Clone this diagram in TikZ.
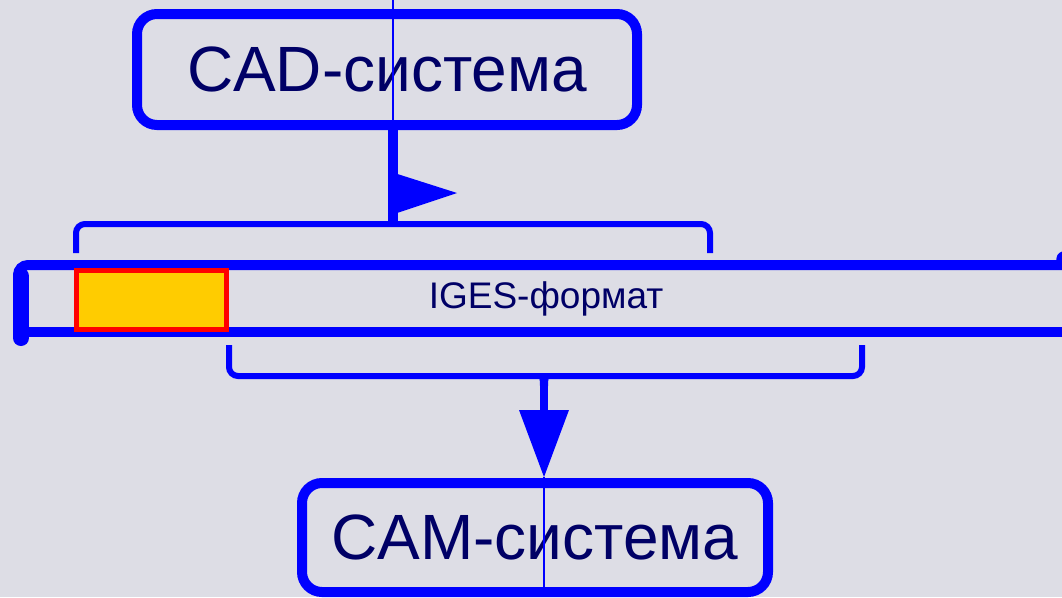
\documentclass[tikz,border=0pt]{standalone}
\usepackage{fontspec}
\setmainfont{Liberation Sans}
\definecolor{bg}{RGB}{221,221,229}
\definecolor{lineblue}{RGB}{0,0,255}
\definecolor{txt}{RGB}{0,0,102}
\definecolor{gold}{RGB}{255,204,0}
\begin{document}
\begin{tikzpicture}[x=1pt,y=-1pt,
  sysbox/.style={draw=lineblue, line width=10pt, rounded corners=20pt,
    minimum width=500pt, minimum height=111pt, inner sep=0pt,
    font=\fontsize{64}{64}\selectfont, text=txt},
  bracket/.style={draw=lineblue, line width=6pt, rounded corners=9pt},
  guide/.style={draw=lineblue, line width=2.5pt},
  stem/.style={draw=lineblue, line width=10pt},
  head/.style={fill=lineblue},
  rail/.style={draw=lineblue, line width=10pt}]
\fill[bg] (0,0) rectangle (1062,597);
\useasboundingbox (0,0) rectangle (1062,597);

% the two systems
\node[sysbox] (cad) at (387,69.5) {CAD-система};
\node[sysbox, minimum width=466pt, minimum height=109pt] (cam) at (535,537.5) {CAM-система};

% the exchange-format strip
\draw[rail, rounded corners=10pt] (18,338) -- (18,265) -- (1070,265);
\draw[rail] (28,332) -- (1070,332);
\draw[lineblue, line width=16pt, line cap=round] (21,276) -- (21,338);
\fill[lineblue] (1056,262) .. controls (1057,254) .. (1063,251) -- (1063,262) -- cycle;
\node[draw=red, fill=gold, line width=5pt, minimum width=150pt,
      minimum height=59pt, inner sep=0pt] (slot) at (151,299.5) {};
\node[font=\fontsize{37}{37}\selectfont, text=txt] (iges) at (546,299) {IGES-формат};

% upper bracket and the export arrow
\coordinate (tb) at (393,224);
\draw[bracket] (76,253) -- (76,224) -- (710,224) -- (710,253);
\draw[guide] (393,0) -- (tb);
\draw[stem] (cad.south -| tb) -- (tb);
\fill[head] (388,171) -- (457,193) -- (388,216) -- cycle;

% lower bracket and the import arrow
\coordinate (bb) at (544,376);
\coordinate (tip) at (544,477);
\draw[bracket] (229,345) -- (229,376) -- (862,376) -- (862,345);
\fill[lineblue] (534,373) .. controls (540,375) and (540,380) .. (540,386)
  -- (548,386) .. controls (548,380) and (548,375) .. (554,373) -- cycle;
\draw[stem, line width=8pt] (bb) -- (544,412);
\fill[head] (519,410) -- (569,410) -- (tip) -- cycle;
\draw[guide] (tip) -- (cam.south -| tip) -- (544,597);
\end{tikzpicture}
\end{document}
